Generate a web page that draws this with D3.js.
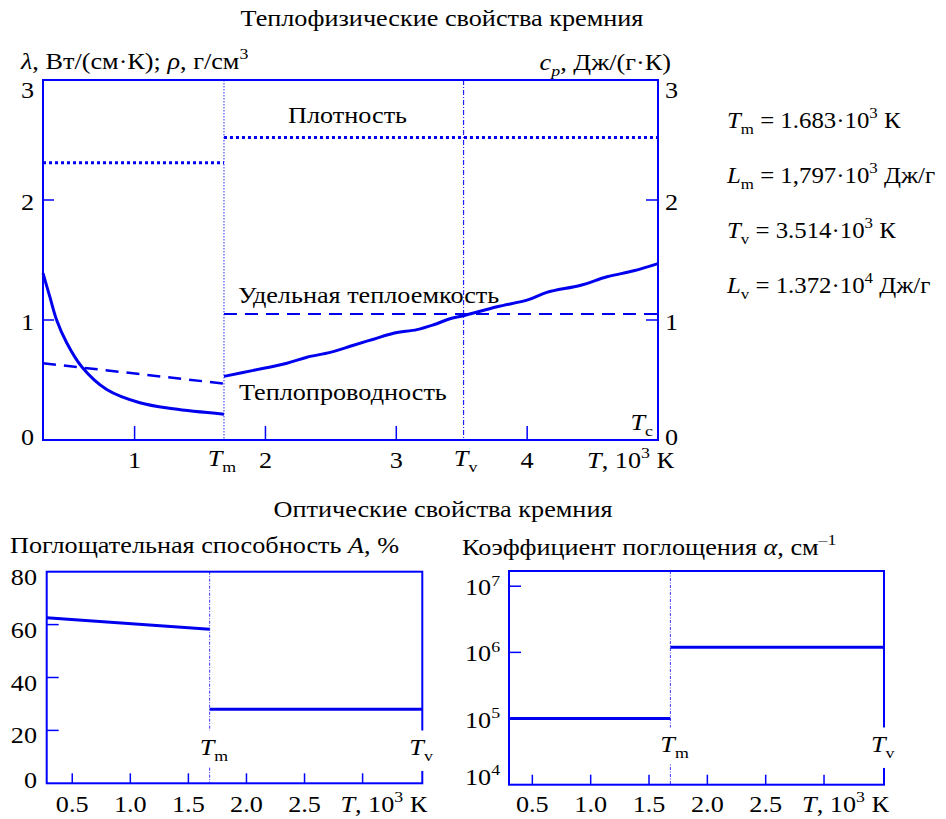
<!DOCTYPE html>
<html>
<head>
<meta charset="utf-8">
<script src="https://cdn.jsdelivr.net/npm/d3@7"></script>
<style>
  body { margin: 0; background: #fff; }
  svg text { font-family: "Liberation Serif", "Times New Roman", serif; fill: #000; }
</style>
</head>
<body>
<svg id="chart" width="946" height="819"></svg>
<script>
// Phase-transition temperatures, 10^3 K
const Tm = 1.683;
const Tv = 3.514;

// Thermal conductivity λ, W/(cm·K) — solid phase
const lambdaSolidT = [0.3, 0.353, 0.404, 0.481, 0.596, 0.787, 1.04, 1.296, 1.683];
const lambdaSolid  = [1.39, 1.19, 1.0, 0.81, 0.61, 0.42, 0.31, 0.26, 0.215];
// Thermal conductivity λ — liquid phase
const lambdaLiquidT = [1.683, 1.908, 2.164, 2.317, 2.495, 2.673, 2.826, 2.979, 3.158, 3.285, 3.41, 3.527, 3.77, 4.01, 4.15, 4.41, 4.61, 4.815, 5.0];
const lambdaLiquid  = [0.53, 0.58, 0.64, 0.69, 0.73, 0.79, 0.84, 0.89, 0.92, 0.96, 1.01, 1.04, 1.11, 1.17, 1.23, 1.29, 1.36, 1.41, 1.47];

// Specific heat c_p, J/(g·K)
const cpSolidT  = [0.3, 1.683];
const cpSolid   = [0.64, 0.47];
const cpLiquidT = [1.683, 5.0];
const cpLiquid  = [1.05, 1.05];

// Density ρ, g/cm^3
const rhoSolidT  = [0.3, 1.683];
const rhoSolid   = [2.31, 2.31];
const rhoLiquidT = [1.683, 5.0];
const rhoLiquid  = [2.52, 2.52];

// Absorptivity A, %
const absSolidT  = [0.28, 1.683];
const absSolid   = [62.6, 58.2];
const absLiquidT = [1.683, 3.514];
const absLiquid  = [28, 28];

// Absorption coefficient α, cm^-1
const alphaSolidT  = [0.3, 1.683];
const alphaSolid   = [1e5, 1e5];
const alphaLiquidT = [1.683, 3.514];
const alphaLiquid  = [1.2e6, 1.2e6];

// Tick values and labels
const thermoXTicks  = [1, 2, 3, 4];
const thermoXLabels = ["1", "2", "3", "4"];
const thermoYTicks  = [0, 1, 2, 3];
const opticXTicks   = [0.5, 1.0, 1.5, 2.0, 2.5, 3.0];
const opticXLabels  = ["0.5", "1.0", "1.5", "2.0", "2.5"];
const absYTicks     = [0, 20, 40, 60, 80];
const alphaYTicks   = [1e4, 1e5, 1e6, 1e7];
const alphaYExp     = ["4", "5", "6", "7"];

const BLUE = "#0000ff";
const LINE = "#0000ee";
const FS = 23;      // font size
const SX = 1.14;    // horizontal stretch of the lettering

const svg = d3.select("#chart");

// Text with italic / subscript / superscript runs, anchored at (x, y)
function rich(parent, parts, size, x, y, anchor, sx) {
  const t = parent.append("text")
    .attr("x", 0).attr("y", 0)
    .attr("transform", `translate(${x},${y}) scale(${sx || SX},1)`)
    .attr("font-size", size)
    .attr("text-anchor", anchor || "start");
  let shift = 0;
  parts.forEach(p => {
    const ts = t.append("tspan").text(p.t);
    const target = p.sub ? 0.27 * size : p.sup ? -0.42 * size : 0;
    const dy = target - shift;
    if (dy) ts.attr("dy", dy);
    shift = target;
    if (p.sub || p.sup) ts.attr("font-size", size * 0.68);
    if (p.i) ts.attr("font-style", "italic");
  });
  return t;
}

function plain(parent, str, x, y, anchor) {
  return rich(parent, [{t: str}], FS, x, y, anchor);
}

function line(g, xs, ys, xScale, yScale, style, curve) {
  const gen = d3.line()
    .x(d => xScale(d[0])).y(d => yScale(d[1]))
    .curve(curve || d3.curveLinear);
  const p = g.append("path")
    .datum(xs.map((x, i) => [x, ys[i]]))
    .attr("d", gen)
    .attr("fill", "none")
    .attr("stroke", LINE)
    .attr("stroke-width", style.w || 3);
  if (style.dash) p.attr("stroke-dasharray", style.dash);
  return p;
}

function frame(g, x, y) {
  const [x0, x1] = x.range();
  const [y0, y1] = y.range();
  g.append("rect")
    .attr("x", x0).attr("y", Math.min(y0, y1))
    .attr("width", x1 - x0).attr("height", Math.abs(y0 - y1))
    .attr("fill", "none").attr("stroke", BLUE).attr("stroke-width", 2);
}

// White patch behind a label so that frame lines break around it
function labelBackground(g, textSel, padTop, padBottom) {
  const n = textSel.node();
  const b = n.getBBox();
  const gm = g.node().getCTM().inverse().multiply(n.getCTM());
  const x0 = gm.a * b.x + gm.e, x1 = gm.a * (b.x + b.width) + gm.e;
  const y0 = gm.d * b.y + gm.f, y1 = gm.d * (b.y + b.height) + gm.f;
  g.insert("rect", () => n)
    .attr("x", x0).attr("y", y0 - padTop)
    .attr("width", x1 - x0).attr("height", y1 - y0 + padTop + padBottom)
    .attr("fill", "#fff");
}

// ---------------- Thermophysical properties ----------------
{
  const g = svg.append("g");
  const x = d3.scaleLinear().domain([0.3, 5.0]).range([43, 658]);
  const y = d3.scaleLinear().domain([0, 3]).range([440, 80]);

  plain(g, "Теплофизические свойства кремния", 442, 26, "middle");

  rich(g, [{t: "λ", i: true}, {t: ", Вт/(см·К); "}, {t: "ρ", i: true}, {t: ", г/см"}, {t: "3", sup: true}], FS, 21, 69);
  rich(g, [{t: "c", i: true}, {t: "p", i: true, sub: true}, {t: ", Дж/(г·К)"}], FS, 671, 70, "end");

  // phase boundary markers
  g.append("line").attr("x1", x(Tm)).attr("x2", x(Tm)).attr("y1", y(3)).attr("y2", y(0))
    .attr("stroke", "#7373ff").attr("stroke-width", 1.5).attr("stroke-dasharray", "1.5,1.5");
  g.append("line").attr("x1", x(Tv)).attr("x2", x(Tv)).attr("y1", y(3)).attr("y2", y(0))
    .attr("stroke", "#2020ff").attr("stroke-width", 1.2).attr("stroke-dasharray", "5,2,1,2");

  frame(g, x, y);

  // ticks: left and right y, bottom x (all pointing inward)
  thermoYTicks.forEach(v => {
    g.append("line").attr("x1", x.range()[0]).attr("x2", x.range()[0] + 11)
      .attr("y1", y(v)).attr("y2", y(v)).attr("stroke", BLUE).attr("stroke-width", 1.5);
    g.append("line").attr("x1", x.range()[1]).attr("x2", x.range()[1] - 12)
      .attr("y1", y(v)).attr("y2", y(v)).attr("stroke", BLUE).attr("stroke-width", 1.5);
    const dy = v === 3 ? 10 : (v === 0 ? -3 : 2);
    plain(g, String(v), 34, y(v) + dy, "end").attr("dy", "0.35em");
    plain(g, String(v), 665, y(v) + dy, "start").attr("dy", "0.35em");
  });
  thermoXTicks.forEach((v, i) => {
    g.append("line").attr("x1", x(v)).attr("x2", x(v))
      .attr("y1", y(0)).attr("y2", y(0) - 14).attr("stroke", BLUE).attr("stroke-width", 1.5);
    plain(g, thermoXLabels[i], x(v), 468, "middle");
  });
  rich(g, [{t: "T", i: true}, {t: "m", sub: true}], FS, x(Tm) - 2, 466, "middle");
  rich(g, [{t: "T", i: true}, {t: "v", sub: true}], FS, x(Tv) + 2, 466, "middle");
  rich(g, [{t: "T", i: true}, {t: ", 10"}, {t: "3", sup: true}, {t: " К"}], FS, 674, 468, "end");
  rich(g, [{t: "T", i: true}, {t: "c", sub: true}], FS, 653, 430, "end");

  // curves
  line(g, rhoSolidT, rhoSolid, x, y, {w: 3, dash: "3,3"});
  line(g, rhoLiquidT, rhoLiquid, x, y, {w: 3, dash: "3,3"});
  line(g, cpSolidT, cpSolid, x, y, {w: 2.5, dash: "13,8"});
  line(g, cpLiquidT, cpLiquid, x, y, {w: 2, dash: "13,8"});
  line(g, lambdaSolidT, lambdaSolid, x, y, {w: 3}, d3.curveCatmullRom);
  line(g, lambdaLiquidT, lambdaLiquid, x, y, {w: 3}, d3.curveCatmullRom);

  plain(g, "Плотность", 288, 123);
  plain(g, "Удельная теплоемкость", 238, 303);
  plain(g, "Теплопроводность", 239, 400);

  // constants
  const consts = [
    [{t: "T", i: true}, {t: "m", sub: true}, {t: " = 1.683·10"}, {t: "3", sup: true}, {t: " К"}],
    [{t: "L", i: true}, {t: "m", sub: true}, {t: " = 1,797·10"}, {t: "3", sup: true}, {t: " Дж/г"}],
    [{t: "T", i: true}, {t: "v", sub: true}, {t: " = 3.514·10"}, {t: "3", sup: true}, {t: " К"}],
    [{t: "L", i: true}, {t: "v", sub: true}, {t: " = 1.372·10"}, {t: "4", sup: true}, {t: " Дж/г"}]
  ];
  consts.forEach((c, i) => rich(g, c, FS, 727, 128 + i * 55, "start", 1.08));
}

// ---------------- Optical properties ----------------
plain(svg, "Оптические свойства кремния", 443, 517, "middle");

function opticPanel(opts) {
  const g = svg.append("g");
  const x = opts.x, y = opts.y;
  const [x0, x1] = x.range();
  const yb = y.range()[0], yt = y.range()[1];

  rich(g, opts.title, FS, opts.titleX, opts.titleY);

  // melting line
  g.append("line").attr("x1", x(Tm)).attr("x2", x(Tm)).attr("y1", yt).attr("y2", yb)
    .attr("stroke", "#3a3aff").attr("stroke-width", 1).attr("stroke-dasharray", "3,1.5,1,1.5");

  frame(g, x, y);

  opts.yTicks.forEach((v, i) => {
    if (i > 0 && i < opts.yTicks.length - 1) {
      g.append("line").attr("x1", x0).attr("x2", x0 + 12).attr("y1", y(v)).attr("y2", y(v))
        .attr("stroke", BLUE).attr("stroke-width", 1.5);
    }
    opts.yLabel(g, v, i, y(v));
  });
  opticXTicks.forEach((v, i) => {
    g.append("line").attr("x1", x(v)).attr("x2", x(v)).attr("y1", yb).attr("y2", yb - 10)
      .attr("stroke", BLUE).attr("stroke-width", 1.5);
    if (opticXLabels[i]) plain(g, opticXLabels[i], x(v), 812, "middle");
  });
  rich(g, [{t: "T", i: true}, {t: ", 10"}, {t: "3", sup: true}, {t: " К"}], FS, x1 + 5, 812, "end");

  const tm = rich(g, [{t: "T", i: true}, {t: "m", sub: true}], FS, x(Tm) - 10, opts.markY);
  labelBackground(g, tm, 4, 2);
  const tv = rich(g, [{t: "T", i: true}, {t: "v", sub: true}], FS, x1 - 13, opts.markY);
  labelBackground(g, tv, 4, 6);

  opts.series.forEach(s => line(g, s[0], s[1], x, y, {w: 3}));
}

opticPanel({
  x: d3.scaleLinear().domain([0.28, Tv]).range([46.7, 422.3]),
  y: d3.scaleLinear().domain([0, 80]).range([783.3, 571.7]),
  title: [{t: "Поглощательная способность "}, {t: "A", i: true}, {t: ", %"}],
  titleX: 10, titleY: 553,
  yTicks: absYTicks,
  yLabel: (g, v, i, py) => {
    const dy = i === 0 ? -3 : 5;
    plain(g, String(v), 37, py + dy, "end").attr("dy", "0.35em");
  },
  markY: 755,
  series: [[absSolidT, absSolid], [absLiquidT, absLiquid]]
});

opticPanel({
  x: d3.scaleLinear().domain([0.3, Tv]).range([509, 884]),
  y: d3.scaleLog().domain([1e4, Math.pow(10, 7.23)]).range([784.7, 571]),
  title: [{t: "Коэффициент поглощения "}, {t: "α", i: true}, {t: ", см"}, {t: "–1", sup: true}],
  titleX: 462, titleY: 555,
  yTicks: alphaYTicks,
  yLabel: (g, v, i, py) => {
    const dy = i === 0 ? -8 : 1;
    rich(g, [{t: "10"}, {t: alphaYExp[i], sup: true}], FS, 465, py + dy).attr("dy", "0.35em");
    if (i === alphaYTicks.length - 1) {
      g.append("line").attr("x1", 509).attr("x2", 521).attr("y1", py).attr("y2", py)
        .attr("stroke", BLUE).attr("stroke-width", 1.5);
    }
  },
  markY: 752,
  series: [[alphaSolidT, alphaSolid], [alphaLiquidT, alphaLiquid]]
});
</script>
</body>
</html>
